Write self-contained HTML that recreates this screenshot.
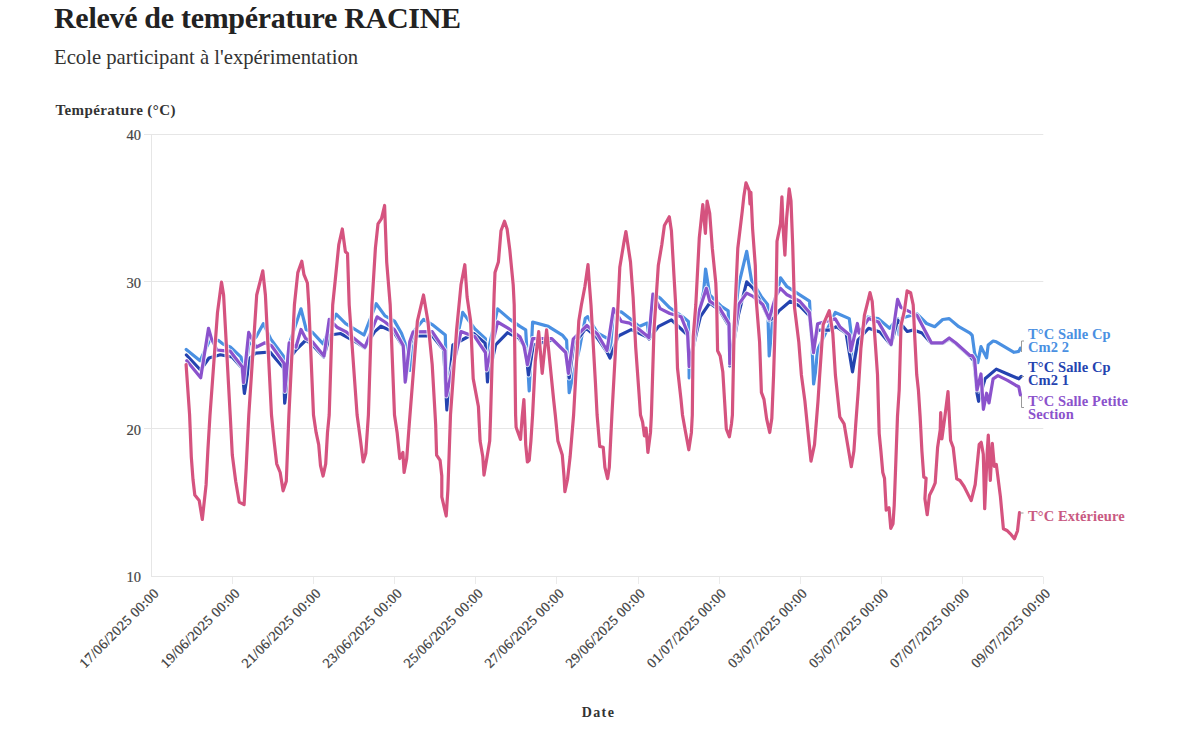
<!DOCTYPE html>
<html><head><meta charset="utf-8"><style>
html,body{margin:0;padding:0;background:#fff;width:1200px;height:746px;overflow:hidden}
.t{position:absolute;font-family:"Liberation Serif",serif;white-space:nowrap;color:#333}
svg text{font-family:"Liberation Serif",serif}
.xl{font-size:14px;fill:#3c3c3c;letter-spacing:0.4px;stroke:#3c3c3c;stroke-width:0.25px}
.yl{font-size:14.5px;fill:#444;stroke:#444;stroke-width:0.2px}
.lab{font-size:14.5px;font-weight:bold;letter-spacing:0.1px}
</style></head><body>
<div class="t" style="left:54px;top:0px;font-size:30px;letter-spacing:-0.3px;font-weight:bold;line-height:36px;color:#222">Relevé de température RACINE</div>
<div class="t" style="left:54px;top:44px;font-size:20.7px;line-height:26px">Ecole participant à l'expérimentation</div>
<svg width="1200" height="746" style="position:absolute;left:0;top:0">
<text x="55.5" y="115" style="font-size:15px;letter-spacing:0.4px;font-weight:bold;fill:#333">Température (°C)</text>
<text x="598.5" y="716.5" text-anchor="middle" style="font-size:14px;letter-spacing:1.4px;font-weight:bold;fill:#333">Date</text>
<line x1="144" y1="134.5" x2="1043.3" y2="134.5" stroke="#e6e6e6" stroke-width="1"/>
<line x1="144" y1="281.5" x2="1043.3" y2="281.5" stroke="#e6e6e6" stroke-width="1"/>
<line x1="144" y1="428.5" x2="1043.3" y2="428.5" stroke="#e6e6e6" stroke-width="1"/>
<line x1="151.5" y1="134" x2="151.5" y2="577" stroke="#e6e6e6" stroke-width="1"/>
<line x1="151.7" y1="576.5" x2="1043.3" y2="576.5" stroke="#e6e6e6" stroke-width="1"/>
<text x="159.7" y="594" transform="rotate(-45 159.7 594)" text-anchor="end" class="xl">17/06/2025 00:00</text>
<line x1="232.5" y1="577" x2="232.5" y2="584" stroke="#ebebeb" stroke-width="1"/>
<text x="240.8" y="594" transform="rotate(-45 240.8 594)" text-anchor="end" class="xl">19/06/2025 00:00</text>
<line x1="313.5" y1="577" x2="313.5" y2="584" stroke="#ebebeb" stroke-width="1"/>
<text x="321.8" y="594" transform="rotate(-45 321.8 594)" text-anchor="end" class="xl">21/06/2025 00:00</text>
<line x1="394.5" y1="577" x2="394.5" y2="584" stroke="#ebebeb" stroke-width="1"/>
<text x="402.9" y="594" transform="rotate(-45 402.9 594)" text-anchor="end" class="xl">23/06/2025 00:00</text>
<line x1="475.5" y1="577" x2="475.5" y2="584" stroke="#ebebeb" stroke-width="1"/>
<text x="483.9" y="594" transform="rotate(-45 483.9 594)" text-anchor="end" class="xl">25/06/2025 00:00</text>
<line x1="556.5" y1="577" x2="556.5" y2="584" stroke="#ebebeb" stroke-width="1"/>
<text x="565.0" y="594" transform="rotate(-45 565.0 594)" text-anchor="end" class="xl">27/06/2025 00:00</text>
<line x1="638.5" y1="577" x2="638.5" y2="584" stroke="#ebebeb" stroke-width="1"/>
<text x="646.0" y="594" transform="rotate(-45 646.0 594)" text-anchor="end" class="xl">29/06/2025 00:00</text>
<line x1="719.5" y1="577" x2="719.5" y2="584" stroke="#ebebeb" stroke-width="1"/>
<text x="727.1" y="594" transform="rotate(-45 727.1 594)" text-anchor="end" class="xl">01/07/2025 00:00</text>
<line x1="800.5" y1="577" x2="800.5" y2="584" stroke="#ebebeb" stroke-width="1"/>
<text x="808.1" y="594" transform="rotate(-45 808.1 594)" text-anchor="end" class="xl">03/07/2025 00:00</text>
<line x1="881.5" y1="577" x2="881.5" y2="584" stroke="#ebebeb" stroke-width="1"/>
<text x="889.2" y="594" transform="rotate(-45 889.2 594)" text-anchor="end" class="xl">05/07/2025 00:00</text>
<line x1="962.5" y1="577" x2="962.5" y2="584" stroke="#ebebeb" stroke-width="1"/>
<text x="970.2" y="594" transform="rotate(-45 970.2 594)" text-anchor="end" class="xl">07/07/2025 00:00</text>
<line x1="1043.5" y1="577" x2="1043.5" y2="584" stroke="#ebebeb" stroke-width="1"/>
<text x="1051.3" y="594" transform="rotate(-45 1051.3 594)" text-anchor="end" class="xl">09/07/2025 00:00</text>
<text x="141" y="140.4" text-anchor="end" class="yl">40</text>
<text x="141" y="287.5" text-anchor="end" class="yl">30</text>
<text x="141" y="434.6" text-anchor="end" class="yl">20</text>
<text x="141" y="581.7" text-anchor="end" class="yl">10</text>
<path d="M186.2,349.4 L200.1,360.8 L209.7,340.3 L218.2,340.3 L223.0,344.0 L230.3,347.0 L241.1,357.2 L244.5,378.0 L248.8,345.0 L256.1,336.9 L263.4,323.6 L270.8,339.1 L283.3,356.0 L284.1,388.0 L289.2,344.2 L301.0,308.8 L306.2,329.5 L312.6,332.5 L323.1,343.8 L329.0,330.0 L336.2,314.2 L345.7,323.7 L364.0,335.0 L376.2,303.7 L385.0,315.9 L394.5,321.1 L401.5,333.3 L405.0,343.1 L409.8,370.5 L414.7,330.3 L423.5,319.4 L432.2,324.6 L445.3,335.1 L446.5,385.0 L462.7,312.4 L474.9,329.0 L485.4,338.6 L486.2,359.5 L497.6,308.9 L509.8,319.4 L520.0,326.4 L525.7,329.8 L529.2,390.8 L532.6,322.0 L548.3,326.4 L562.3,335.1 L566.6,340.3 L569.2,392.6 L579.7,347.3 L585.3,318.3 L587.7,316.7 L597.4,332.8 L608.6,339.2 L610.3,350.5 L613.5,311.9 L621.5,311.9 L629.6,318.3 L639.2,326.4 L647.3,323.1 L648.9,337.6 L653.7,294.2 L660.2,298.2 L669.8,307.8 L682.7,316.7 L688.4,321.5 L689.2,377.9 L697.2,321.5 L703.7,290.9 L705.6,269.0 L709.7,294.8 L720.9,306.0 L728.2,310.9 L729.8,360.0 L738.6,285.1 L746.7,251.3 L751.5,280.3 L761.2,296.4 L767.6,304.4 L769.2,355.9 L774.1,304.4 L780.5,277.8 L787.0,286.7 L799.8,294.8 L809.5,301.2 L812.0,345.0 L813.6,384.0 L815.5,372.0 L817.5,350.0 L835.3,312.5 L849.3,318.6 L850.9,331.5 L852.5,367.0 L857.4,347.6 L867.0,317.0 L878.3,318.6 L889.6,328.3 L897.6,318.6 L899.2,335.0 L902.0,318.0 L917.0,313.8 L926.6,323.5 L934.7,326.7 L942.7,319.5 L949.2,318.6 L958.8,326.7 L970.1,333.1 L972.2,335.4 L974.6,353.1 L977.8,362.7 L981.0,346.6 L984.2,353.1 L986.6,357.9 L988.2,345.0 L993.1,341.0 L996.3,341.8 L1004.3,346.6 L1014.0,352.3 L1018.8,351.4 L1020.4,348.2" fill="none" stroke="#fff" stroke-width="5" stroke-linejoin="round" stroke-linecap="round" opacity="0.8"/>
<path d="M186.2,349.4 L200.1,360.8 L209.7,340.3 L218.2,340.3 L223.0,344.0 L230.3,347.0 L241.1,357.2 L244.5,378.0 L248.8,345.0 L256.1,336.9 L263.4,323.6 L270.8,339.1 L283.3,356.0 L284.1,388.0 L289.2,344.2 L301.0,308.8 L306.2,329.5 L312.6,332.5 L323.1,343.8 L329.0,330.0 L336.2,314.2 L345.7,323.7 L364.0,335.0 L376.2,303.7 L385.0,315.9 L394.5,321.1 L401.5,333.3 L405.0,343.1 L409.8,370.5 L414.7,330.3 L423.5,319.4 L432.2,324.6 L445.3,335.1 L446.5,385.0 L462.7,312.4 L474.9,329.0 L485.4,338.6 L486.2,359.5 L497.6,308.9 L509.8,319.4 L520.0,326.4 L525.7,329.8 L529.2,390.8 L532.6,322.0 L548.3,326.4 L562.3,335.1 L566.6,340.3 L569.2,392.6 L579.7,347.3 L585.3,318.3 L587.7,316.7 L597.4,332.8 L608.6,339.2 L610.3,350.5 L613.5,311.9 L621.5,311.9 L629.6,318.3 L639.2,326.4 L647.3,323.1 L648.9,337.6 L653.7,294.2 L660.2,298.2 L669.8,307.8 L682.7,316.7 L688.4,321.5 L689.2,377.9 L697.2,321.5 L703.7,290.9 L705.6,269.0 L709.7,294.8 L720.9,306.0 L728.2,310.9 L729.8,360.0 L738.6,285.1 L746.7,251.3 L751.5,280.3 L761.2,296.4 L767.6,304.4 L769.2,355.9 L774.1,304.4 L780.5,277.8 L787.0,286.7 L799.8,294.8 L809.5,301.2 L812.0,345.0 L813.6,384.0 L815.5,372.0 L817.5,350.0 L835.3,312.5 L849.3,318.6 L850.9,331.5 L852.5,367.0 L857.4,347.6 L867.0,317.0 L878.3,318.6 L889.6,328.3 L897.6,318.6 L899.2,335.0 L902.0,318.0 L917.0,313.8 L926.6,323.5 L934.7,326.7 L942.7,319.5 L949.2,318.6 L958.8,326.7 L970.1,333.1 L972.2,335.4 L974.6,353.1 L977.8,362.7 L981.0,346.6 L984.2,353.1 L986.6,357.9 L988.2,345.0 L993.1,341.0 L996.3,341.8 L1004.3,346.6 L1014.0,352.3 L1018.8,351.4 L1020.4,348.2" fill="none" stroke="#4a90e2" stroke-width="3.2" stroke-linejoin="round" stroke-linecap="round"/>
<path d="M186.4,355.0 L200.5,370.0 L209.0,358.0 L220.3,354.8 L232.0,357.0 L242.0,368.0 L244.4,393.4 L250.0,358.0 L255.7,353.1 L270.0,352.0 L283.5,368.0 L284.7,403.1 L290.0,358.0 L296.0,349.9 L306.0,340.0 L312.4,345.0 L323.7,357.0 L330.0,335.0 L340.6,333.5 L356.0,342.0 L364.8,348.0 L374.4,331.9 L380.9,326.2 L393.7,332.0 L403.4,347.0 L405.8,380.0 L409.8,345.0 L413.0,336.0 L432.4,336.0 L443.7,350.0 L446.9,410.0 L452.9,345.0 L473.8,333.5 L485.1,343.1 L487.5,381.8 L495.6,344.8 L507.6,332.7 L518.9,338.0 L525.3,348.0 L528.5,375.0 L533.4,345.0 L552.7,340.0 L565.6,352.0 L569.2,378.0 L573.7,345.0 L586.0,328.0 L597.4,338.0 L607.0,352.0 L610.0,358.0 L618.3,336.0 L631.2,329.6 L647.3,337.0 L649.0,339.0 L658.6,326.4 L671.4,319.9 L687.6,335.0 L689.2,366.0 L697.2,329.6 L700.4,316.7 L709.7,303.0 L719.3,310.0 L729.0,326.0 L729.8,366.0 L738.6,314.1 L746.7,281.9 L753.1,288.3 L762.8,306.0 L769.2,320.0 L774.0,318.0 L778.9,310.9 L790.2,301.2 L799.8,306.0 L809.5,316.0 L813.0,350.0 L817.6,330.0 L828.8,330.2 L836.4,326.7 L846.1,333.1 L852.5,371.8 L858.0,340.0 L868.6,328.3 L880.0,332.0 L891.0,345.0 L897.6,320.0 L907.3,331.5 L913.7,329.9 L922.0,333.0 L931.4,343.5 L942.7,343.5 L949.2,339.0 L955.6,343.5 L970.1,356.5 L974.0,361.0 L977.0,393.2 L978.6,401.3 L985.0,378.8 L996.3,369.1 L1007.5,374.0 L1018.8,378.8 L1021.2,376.4" fill="none" stroke="#fff" stroke-width="5" stroke-linejoin="round" stroke-linecap="round" opacity="0.8"/>
<path d="M186.4,355.0 L200.5,370.0 L209.0,358.0 L220.3,354.8 L232.0,357.0 L242.0,368.0 L244.4,393.4 L250.0,358.0 L255.7,353.1 L270.0,352.0 L283.5,368.0 L284.7,403.1 L290.0,358.0 L296.0,349.9 L306.0,340.0 L312.4,345.0 L323.7,357.0 L330.0,335.0 L340.6,333.5 L356.0,342.0 L364.8,348.0 L374.4,331.9 L380.9,326.2 L393.7,332.0 L403.4,347.0 L405.8,380.0 L409.8,345.0 L413.0,336.0 L432.4,336.0 L443.7,350.0 L446.9,410.0 L452.9,345.0 L473.8,333.5 L485.1,343.1 L487.5,381.8 L495.6,344.8 L507.6,332.7 L518.9,338.0 L525.3,348.0 L528.5,375.0 L533.4,345.0 L552.7,340.0 L565.6,352.0 L569.2,378.0 L573.7,345.0 L586.0,328.0 L597.4,338.0 L607.0,352.0 L610.0,358.0 L618.3,336.0 L631.2,329.6 L647.3,337.0 L649.0,339.0 L658.6,326.4 L671.4,319.9 L687.6,335.0 L689.2,366.0 L697.2,329.6 L700.4,316.7 L709.7,303.0 L719.3,310.0 L729.0,326.0 L729.8,366.0 L738.6,314.1 L746.7,281.9 L753.1,288.3 L762.8,306.0 L769.2,320.0 L774.0,318.0 L778.9,310.9 L790.2,301.2 L799.8,306.0 L809.5,316.0 L813.0,350.0 L817.6,330.0 L828.8,330.2 L836.4,326.7 L846.1,333.1 L852.5,371.8 L858.0,340.0 L868.6,328.3 L880.0,332.0 L891.0,345.0 L897.6,320.0 L907.3,331.5 L913.7,329.9 L922.0,333.0 L931.4,343.5 L942.7,343.5 L949.2,339.0 L955.6,343.5 L970.1,356.5 L974.0,361.0 L977.0,393.2 L978.6,401.3 L985.0,378.8 L996.3,369.1 L1007.5,374.0 L1018.8,378.8 L1021.2,376.4" fill="none" stroke="#2443b0" stroke-width="3.2" stroke-linejoin="round" stroke-linecap="round"/>
<path d="M186.8,360.8 L200.7,377.7 L208.5,328.3 L211.6,339.1 L217.0,350.0 L223.0,350.6 L230.3,351.2 L242.3,366.9 L243.5,382.6 L248.7,332.4 L256.1,347.2 L264.9,342.8 L271.5,345.7 L284.1,363.4 L284.8,391.4 L289.2,342.8 L295.9,347.2 L301.0,329.5 L305.5,338.3 L312.6,342.0 L324.0,356.0 L329.2,319.4 L337.0,327.2 L345.7,331.6 L364.9,347.3 L377.1,316.8 L385.0,322.0 L394.5,329.8 L403.2,345.5 L405.2,382.1 L409.8,341.5 L413.1,331.9 L432.2,331.6 L445.0,350.7 L446.2,396.0 L461.0,331.6 L474.9,336.8 L485.4,352.5 L486.5,370.0 L497.6,322.0 L508.0,328.1 L520.0,336.8 L523.9,345.5 L527.4,364.7 L532.6,338.6 L551.8,338.6 L565.7,352.5 L568.4,373.4 L573.2,339.2 L586.9,325.5 L597.4,334.0 L607.0,350.5 L613.5,308.6 L621.5,321.5 L629.6,323.1 L639.2,329.6 L647.3,336.0 L648.9,337.6 L652.9,294.2 L660.2,308.6 L669.8,313.5 L681.1,316.7 L687.6,332.8 L689.2,366.6 L698.8,311.9 L706.4,288.3 L709.7,301.2 L719.3,307.6 L729.0,323.7 L729.8,364.0 L738.6,304.4 L746.7,293.1 L753.1,296.4 L762.8,304.4 L769.2,318.9 L775.7,296.4 L780.5,288.3 L787.0,294.8 L799.8,301.2 L809.5,312.5 L813.5,352.7 L817.6,323.7 L835.3,318.9 L840.1,327.0 L849.3,334.8 L850.9,350.9 L857.4,323.5 L859.0,333.1 L868.6,318.6 L878.3,321.9 L891.2,344.4 L897.6,299.3 L900.9,307.4 L917.0,315.4 L931.4,342.8 L942.7,342.8 L949.2,338.0 L955.6,342.8 L970.1,355.7 L972.2,355.5 L974.6,359.5 L977.0,390.0 L981.0,374.0 L983.4,409.3 L986.6,393.2 L989.0,402.9 L993.1,378.8 L997.9,375.6 L1007.5,380.4 L1015.6,385.2 L1018.8,386.8 L1020.4,394.9" fill="none" stroke="#fff" stroke-width="5" stroke-linejoin="round" stroke-linecap="round" opacity="0.8"/>
<path d="M186.8,360.8 L200.7,377.7 L208.5,328.3 L211.6,339.1 L217.0,350.0 L223.0,350.6 L230.3,351.2 L242.3,366.9 L243.5,382.6 L248.7,332.4 L256.1,347.2 L264.9,342.8 L271.5,345.7 L284.1,363.4 L284.8,391.4 L289.2,342.8 L295.9,347.2 L301.0,329.5 L305.5,338.3 L312.6,342.0 L324.0,356.0 L329.2,319.4 L337.0,327.2 L345.7,331.6 L364.9,347.3 L377.1,316.8 L385.0,322.0 L394.5,329.8 L403.2,345.5 L405.2,382.1 L409.8,341.5 L413.1,331.9 L432.2,331.6 L445.0,350.7 L446.2,396.0 L461.0,331.6 L474.9,336.8 L485.4,352.5 L486.5,370.0 L497.6,322.0 L508.0,328.1 L520.0,336.8 L523.9,345.5 L527.4,364.7 L532.6,338.6 L551.8,338.6 L565.7,352.5 L568.4,373.4 L573.2,339.2 L586.9,325.5 L597.4,334.0 L607.0,350.5 L613.5,308.6 L621.5,321.5 L629.6,323.1 L639.2,329.6 L647.3,336.0 L648.9,337.6 L652.9,294.2 L660.2,308.6 L669.8,313.5 L681.1,316.7 L687.6,332.8 L689.2,366.6 L698.8,311.9 L706.4,288.3 L709.7,301.2 L719.3,307.6 L729.0,323.7 L729.8,364.0 L738.6,304.4 L746.7,293.1 L753.1,296.4 L762.8,304.4 L769.2,318.9 L775.7,296.4 L780.5,288.3 L787.0,294.8 L799.8,301.2 L809.5,312.5 L813.5,352.7 L817.6,323.7 L835.3,318.9 L840.1,327.0 L849.3,334.8 L850.9,350.9 L857.4,323.5 L859.0,333.1 L868.6,318.6 L878.3,321.9 L891.2,344.4 L897.6,299.3 L900.9,307.4 L917.0,315.4 L931.4,342.8 L942.7,342.8 L949.2,338.0 L955.6,342.8 L970.1,355.7 L972.2,355.5 L974.6,359.5 L977.0,390.0 L981.0,374.0 L983.4,409.3 L986.6,393.2 L989.0,402.9 L993.1,378.8 L997.9,375.6 L1007.5,380.4 L1015.6,385.2 L1018.8,386.8 L1020.4,394.9" fill="none" stroke="#8b52cc" stroke-width="3.2" stroke-linejoin="round" stroke-linecap="round"/>
<path d="M186.1,364.7 L189.6,415.0 L191.3,456.8 L193.0,479.5 L194.8,495.0 L199.2,500.4 L202.3,519.5 L206.1,484.7 L207.9,449.8 L210.0,415.0 L217.5,312.4 L221.5,282.1 L223.6,295.0 L230.2,415.0 L232.3,455.0 L235.7,481.2 L239.2,502.1 L244.1,504.7 L246.2,467.3 L248.8,415.0 L256.7,295.0 L262.8,270.8 L265.4,295.0 L271.5,415.0 L274.1,441.1 L276.7,463.8 L280.2,472.5 L283.1,490.8 L286.3,481.2 L288.9,415.0 L294.4,305.0 L297.8,272.6 L301.8,261.2 L303.9,274.3 L307.4,283.0 L308.8,305.0 L313.5,415.0 L316.1,432.4 L318.7,444.6 L320.5,465.5 L323.1,476.0 L325.7,463.8 L327.5,432.4 L329.2,415.0 L332.7,305.0 L335.3,279.5 L338.8,244.7 L342.3,229.0 L345.4,251.7 L347.5,253.4 L349.2,305.0 L357.1,415.0 L360.6,441.1 L363.2,462.0 L365.8,453.3 L368.4,415.0 L371.9,305.0 L375.4,248.2 L378.0,223.8 L381.5,218.6 L384.6,205.5 L386.7,262.1 L390.2,305.0 L394.5,415.0 L397.1,432.4 L399.8,458.6 L402.9,452.5 L404.1,472.5 L406.7,458.6 L409.3,423.7 L417.4,321.1 L423.5,295.0 L427.9,321.1 L432.2,364.7 L435.7,425.0 L436.6,455.1 L440.1,460.3 L441.8,476.0 L441.8,496.9 L446.2,516.0 L447.9,489.9 L450.5,415.0 L456.6,329.8 L461.0,284.8 L464.8,264.7 L467.1,297.0 L470.6,321.1 L473.2,378.6 L475.8,392.6 L478.4,406.5 L480.1,441.1 L482.8,456.8 L484.0,475.1 L487.1,456.8 L489.7,441.1 L490.6,415.0 L494.1,295.0 L495.0,272.6 L498.4,262.1 L501.0,230.7 L504.5,221.2 L507.1,229.0 L509.8,249.9 L513.2,284.8 L514.2,305.0 L515.6,415.0 L516.1,427.2 L520.5,439.4 L522.2,416.7 L523.9,399.5 L525.2,430.0 L525.7,444.6 L527.4,462.0 L529.2,460.3 L530.9,441.1 L532.6,415.0 L535.3,361.2 L538.7,331.6 L542.2,373.4 L546.6,329.8 L550.1,364.7 L553.6,399.5 L555.3,415.0 L557.9,441.1 L562.3,455.1 L564.0,476.0 L564.9,491.7 L567.5,479.5 L570.1,456.8 L573.6,415.0 L578.8,321.1 L581.4,305.0 L584.9,286.5 L588.0,264.7 L589.3,283.0 L591.0,305.0 L595.4,382.1 L597.1,415.0 L599.7,446.4 L603.2,447.2 L604.9,467.3 L607.6,478.6 L609.3,467.3 L611.9,415.0 L618.0,305.0 L619.8,267.3 L624.1,241.2 L625.9,231.6 L630.5,262.1 L633.1,297.0 L635.7,347.3 L639.2,396.0 L640.5,415.0 L642.6,422.0 L644.4,435.9 L646.1,428.0 L647.9,452.5 L650.5,432.4 L651.4,415.0 L654.0,329.8 L655.7,305.0 L658.3,265.6 L661.8,244.7 L664.4,225.5 L669.3,216.8 L671.4,230.7 L674.0,276.0 L675.7,305.0 L677.5,368.2 L681.0,399.5 L682.5,415.0 L685.3,430.7 L688.8,449.8 L691.4,432.4 L692.3,415.0 L693.2,336.8 L695.8,305.0 L699.3,237.7 L702.8,204.6 L705.4,233.4 L707.1,201.1 L709.7,213.3 L712.3,248.2 L715.8,283.0 L716.7,305.0 L717.6,350.7 L720.2,356.0 L722.8,371.7 L724.5,399.5 L726.3,428.9 L729.4,436.8 L731.5,423.7 L732.4,415.0 L734.1,329.8 L735.2,305.0 L737.8,248.2 L742.2,211.6 L743.9,195.9 L746.0,182.8 L749.2,190.7 L750.0,204.0 L750.9,192.4 L752.6,229.0 L755.3,265.6 L756.1,298.6 L759.6,342.1 L761.4,392.4 L764.0,399.4 L766.6,418.6 L769.7,432.5 L771.8,418.6 L773.6,375.0 L776.2,289.8 L777.0,241.2 L780.5,223.8 L781.9,196.8 L783.1,227.3 L784.9,255.1 L786.6,218.6 L789.2,188.9 L791.0,201.1 L792.7,244.7 L794.5,307.3 L798.8,342.1 L801.4,375.0 L804.9,401.1 L808.4,436.0 L811.0,461.2 L814.5,444.7 L818.0,401.1 L819.7,375.0 L823.2,324.7 L829.3,310.7 L832.8,333.4 L835.4,375.0 L839.8,416.8 L844.1,423.8 L847.8,445.7 L851.3,466.7 L853.9,451.0 L855.7,424.8 L858.3,390.0 L860.9,348.4 L864.4,315.3 L867.0,304.8 L870.0,292.6 L872.2,301.4 L874.8,336.2 L877.5,374.5 L879.2,433.6 L880.9,451.0 L882.8,472.5 L884.5,478.2 L886.2,510.1 L889.0,507.8 L890.8,528.3 L893.0,523.8 L894.2,505.6 L895.9,460.0 L897.5,416.1 L899.2,390.0 L901.0,325.7 L904.5,310.1 L907.1,290.9 L910.6,292.6 L913.2,304.8 L914.9,339.7 L916.7,374.5 L918.4,390.0 L920.1,416.1 L921.9,451.0 L923.8,477.1 L926.1,478.2 L924.9,498.7 L927.2,514.7 L929.5,495.3 L932.9,488.5 L935.2,482.8 L937.6,447.5 L940.2,430.1 L940.7,412.6 L941.9,438.8 L944.5,419.6 L948.0,391.7 L950.6,440.5 L953.2,447.5 L956.7,478.9 L960.0,480.5 L964.1,486.5 L969.2,496.6 L971.2,500.6 L975.2,484.5 L979.2,444.3 L981.2,442.3 L983.3,454.3 L984.7,508.7 L987.3,450.3 L988.3,435.2 L990.3,480.5 L992.3,443.3 L994.3,466.4 L996.3,464.4 L1000.4,496.6 L1003.4,528.8 L1007.4,530.8 L1010.4,533.8 L1014.4,538.8 L1017.5,530.8 L1019.5,512.7" fill="none" stroke="#fff" stroke-width="5" stroke-linejoin="round" stroke-linecap="round" opacity="0.8"/>
<path d="M186.1,364.7 L189.6,415.0 L191.3,456.8 L193.0,479.5 L194.8,495.0 L199.2,500.4 L202.3,519.5 L206.1,484.7 L207.9,449.8 L210.0,415.0 L217.5,312.4 L221.5,282.1 L223.6,295.0 L230.2,415.0 L232.3,455.0 L235.7,481.2 L239.2,502.1 L244.1,504.7 L246.2,467.3 L248.8,415.0 L256.7,295.0 L262.8,270.8 L265.4,295.0 L271.5,415.0 L274.1,441.1 L276.7,463.8 L280.2,472.5 L283.1,490.8 L286.3,481.2 L288.9,415.0 L294.4,305.0 L297.8,272.6 L301.8,261.2 L303.9,274.3 L307.4,283.0 L308.8,305.0 L313.5,415.0 L316.1,432.4 L318.7,444.6 L320.5,465.5 L323.1,476.0 L325.7,463.8 L327.5,432.4 L329.2,415.0 L332.7,305.0 L335.3,279.5 L338.8,244.7 L342.3,229.0 L345.4,251.7 L347.5,253.4 L349.2,305.0 L357.1,415.0 L360.6,441.1 L363.2,462.0 L365.8,453.3 L368.4,415.0 L371.9,305.0 L375.4,248.2 L378.0,223.8 L381.5,218.6 L384.6,205.5 L386.7,262.1 L390.2,305.0 L394.5,415.0 L397.1,432.4 L399.8,458.6 L402.9,452.5 L404.1,472.5 L406.7,458.6 L409.3,423.7 L417.4,321.1 L423.5,295.0 L427.9,321.1 L432.2,364.7 L435.7,425.0 L436.6,455.1 L440.1,460.3 L441.8,476.0 L441.8,496.9 L446.2,516.0 L447.9,489.9 L450.5,415.0 L456.6,329.8 L461.0,284.8 L464.8,264.7 L467.1,297.0 L470.6,321.1 L473.2,378.6 L475.8,392.6 L478.4,406.5 L480.1,441.1 L482.8,456.8 L484.0,475.1 L487.1,456.8 L489.7,441.1 L490.6,415.0 L494.1,295.0 L495.0,272.6 L498.4,262.1 L501.0,230.7 L504.5,221.2 L507.1,229.0 L509.8,249.9 L513.2,284.8 L514.2,305.0 L515.6,415.0 L516.1,427.2 L520.5,439.4 L522.2,416.7 L523.9,399.5 L525.2,430.0 L525.7,444.6 L527.4,462.0 L529.2,460.3 L530.9,441.1 L532.6,415.0 L535.3,361.2 L538.7,331.6 L542.2,373.4 L546.6,329.8 L550.1,364.7 L553.6,399.5 L555.3,415.0 L557.9,441.1 L562.3,455.1 L564.0,476.0 L564.9,491.7 L567.5,479.5 L570.1,456.8 L573.6,415.0 L578.8,321.1 L581.4,305.0 L584.9,286.5 L588.0,264.7 L589.3,283.0 L591.0,305.0 L595.4,382.1 L597.1,415.0 L599.7,446.4 L603.2,447.2 L604.9,467.3 L607.6,478.6 L609.3,467.3 L611.9,415.0 L618.0,305.0 L619.8,267.3 L624.1,241.2 L625.9,231.6 L630.5,262.1 L633.1,297.0 L635.7,347.3 L639.2,396.0 L640.5,415.0 L642.6,422.0 L644.4,435.9 L646.1,428.0 L647.9,452.5 L650.5,432.4 L651.4,415.0 L654.0,329.8 L655.7,305.0 L658.3,265.6 L661.8,244.7 L664.4,225.5 L669.3,216.8 L671.4,230.7 L674.0,276.0 L675.7,305.0 L677.5,368.2 L681.0,399.5 L682.5,415.0 L685.3,430.7 L688.8,449.8 L691.4,432.4 L692.3,415.0 L693.2,336.8 L695.8,305.0 L699.3,237.7 L702.8,204.6 L705.4,233.4 L707.1,201.1 L709.7,213.3 L712.3,248.2 L715.8,283.0 L716.7,305.0 L717.6,350.7 L720.2,356.0 L722.8,371.7 L724.5,399.5 L726.3,428.9 L729.4,436.8 L731.5,423.7 L732.4,415.0 L734.1,329.8 L735.2,305.0 L737.8,248.2 L742.2,211.6 L743.9,195.9 L746.0,182.8 L749.2,190.7 L750.0,204.0 L750.9,192.4 L752.6,229.0 L755.3,265.6 L756.1,298.6 L759.6,342.1 L761.4,392.4 L764.0,399.4 L766.6,418.6 L769.7,432.5 L771.8,418.6 L773.6,375.0 L776.2,289.8 L777.0,241.2 L780.5,223.8 L781.9,196.8 L783.1,227.3 L784.9,255.1 L786.6,218.6 L789.2,188.9 L791.0,201.1 L792.7,244.7 L794.5,307.3 L798.8,342.1 L801.4,375.0 L804.9,401.1 L808.4,436.0 L811.0,461.2 L814.5,444.7 L818.0,401.1 L819.7,375.0 L823.2,324.7 L829.3,310.7 L832.8,333.4 L835.4,375.0 L839.8,416.8 L844.1,423.8 L847.8,445.7 L851.3,466.7 L853.9,451.0 L855.7,424.8 L858.3,390.0 L860.9,348.4 L864.4,315.3 L867.0,304.8 L870.0,292.6 L872.2,301.4 L874.8,336.2 L877.5,374.5 L879.2,433.6 L880.9,451.0 L882.8,472.5 L884.5,478.2 L886.2,510.1 L889.0,507.8 L890.8,528.3 L893.0,523.8 L894.2,505.6 L895.9,460.0 L897.5,416.1 L899.2,390.0 L901.0,325.7 L904.5,310.1 L907.1,290.9 L910.6,292.6 L913.2,304.8 L914.9,339.7 L916.7,374.5 L918.4,390.0 L920.1,416.1 L921.9,451.0 L923.8,477.1 L926.1,478.2 L924.9,498.7 L927.2,514.7 L929.5,495.3 L932.9,488.5 L935.2,482.8 L937.6,447.5 L940.2,430.1 L940.7,412.6 L941.9,438.8 L944.5,419.6 L948.0,391.7 L950.6,440.5 L953.2,447.5 L956.7,478.9 L960.0,480.5 L964.1,486.5 L969.2,496.6 L971.2,500.6 L975.2,484.5 L979.2,444.3 L981.2,442.3 L983.3,454.3 L984.7,508.7 L987.3,450.3 L988.3,435.2 L990.3,480.5 L992.3,443.3 L994.3,466.4 L996.3,464.4 L1000.4,496.6 L1003.4,528.8 L1007.4,530.8 L1010.4,533.8 L1014.4,538.8 L1017.5,530.8 L1019.5,512.7" fill="none" stroke="#d5537f" stroke-width="3.2" stroke-linejoin="round" stroke-linecap="round"/>
<path d="M1021.5,352 V341 H1024" fill="none" stroke="#999" stroke-width="1"/>
<path d="M1021.5,376.5 H1024" fill="none" stroke="#999" stroke-width="1"/>
<path d="M1021.5,396 V407.5 H1024" fill="none" stroke="#999" stroke-width="1"/>
<path d="M1020,513 H1023.5" fill="none" stroke="#999" stroke-width="1"/>
<text x="1028" y="339.2" class="lab" fill="#4a90e2">T°C Salle Cp</text>
<text x="1028" y="351.5" class="lab" fill="#4a90e2">Cm2 2</text>
<text x="1028" y="372.4" class="lab" fill="#2443b0">T°C Salle Cp</text>
<text x="1028" y="385.3" class="lab" fill="#2443b0">Cm2 1</text>
<text x="1028" y="406.3" class="lab" fill="#8b52cc">T°C Salle Petite</text>
<text x="1028" y="418.8" class="lab" fill="#8b52cc">Section</text>
<text x="1028" y="521" class="lab" fill="#c95a82">T°C Extérieure</text>
</svg>
</body></html>
